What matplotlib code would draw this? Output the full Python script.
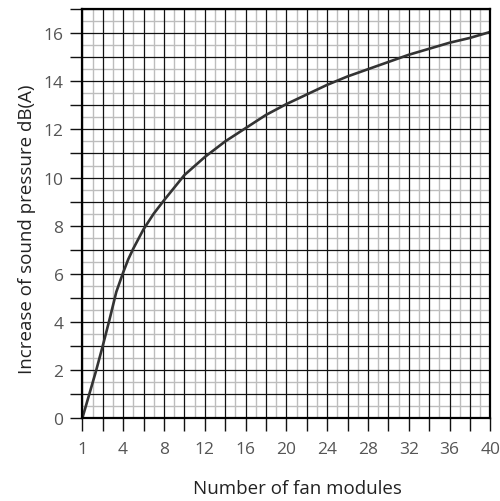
import numpy as np
import matplotlib
matplotlib.use("Agg")
import matplotlib.pyplot as plt
from matplotlib.ticker import FixedLocator, FixedFormatter

# tick values on the x axis (equally spaced on the chart)
x_ticks = [1, 4, 8, 12, 16, 20, 24, 28, 32, 36, 40]

# curve
modules = [1, 2, 2.5, 3, 3.5, 4, 4.5, 5, 6, 7, 8, 10, 12, 14, 16, 18, 20,
           22, 24, 26, 28, 30, 32, 34, 36, 38, 40]
db_increase = [0, 1.95, 3.0, 4.1, 5.25, 6.05, 6.6, 7.05, 7.85, 8.5, 9.05, 10.1,
               10.85, 11.5, 12.05, 12.6, 13.05, 13.45, 13.85, 14.2, 14.5, 14.8,
               15.1, 15.35, 15.6, 15.8, 16.05]

idx = np.arange(len(x_ticks))


def forward(x):
    return np.interp(x, x_ticks, idx)


def inverse(i):
    return np.interp(i, idx, x_ticks)


plt.rcParams['font.family'] = ['Open Sans', 'DejaVu Sans']

fig = plt.figure(figsize=(5.0, 5.02), dpi=100)
ax = fig.add_axes([0.1646, 0.1647, 0.8160, 0.8153])
ax.set_xscale('function', functions=(forward, inverse))
ax.set_xlim(1, 40)
ax.set_ylim(0, 17)

# grid: dark every half step, light in between
major_x = inverse(np.arange(0, 10.01, 0.5))
minor_x = inverse(np.arange(0.25, 10, 0.5))
major_y = np.arange(0, 18, 1)
minor_y = np.arange(0.5, 17, 1)
ax.vlines(minor_x, 0, 17, colors='#bdbdbd', lw=1.0, zorder=1)
ax.hlines(minor_y, 1, 40, colors='#bdbdbd', lw=1.0, zorder=1)
ax.vlines(major_x, 0, 17, colors='#111111', lw=0.9, zorder=2)
ax.hlines(major_y, 1, 40, colors='#111111', lw=0.9, zorder=2)

ax.plot(modules, db_increase, color='#333333', lw=1.9, zorder=3)

ax.xaxis.set_major_locator(FixedLocator(major_x))
ax.xaxis.set_major_formatter(FixedFormatter(
    [str(int(round(v))) if int(round(v)) in x_ticks and abs(v - round(v)) < 1e-6 else '' for v in major_x]))
ax.xaxis.set_minor_locator(FixedLocator([]))
ax.yaxis.set_major_locator(FixedLocator(major_y))
ax.yaxis.set_major_formatter(FixedFormatter(
    [str(v) if v % 2 == 0 and v <= 16 else '' for v in major_y]))

ax.tick_params(axis='both', direction='out', length=9, width=1.0,
               color='#111111', labelcolor='#555555', labelsize=12.5)
ax.tick_params(axis='x', pad=7)
ax.tick_params(axis='y', pad=4.5)

for s in ax.spines.values():
    s.set_linewidth(1.6)
    s.set_color('black')
    s.set_zorder(4)

ax.set_xlabel("Number of fan modules", fontsize=13.5, color='#222222')
ax.set_ylabel("Increase of sound pressure dB(A)", fontsize=13.5, color='#222222')
ax.xaxis.set_label_coords(0.527, -0.148)
ax.yaxis.set_label_coords(-0.113, 0.465)

fig.savefig("out.png", dpi=100)
